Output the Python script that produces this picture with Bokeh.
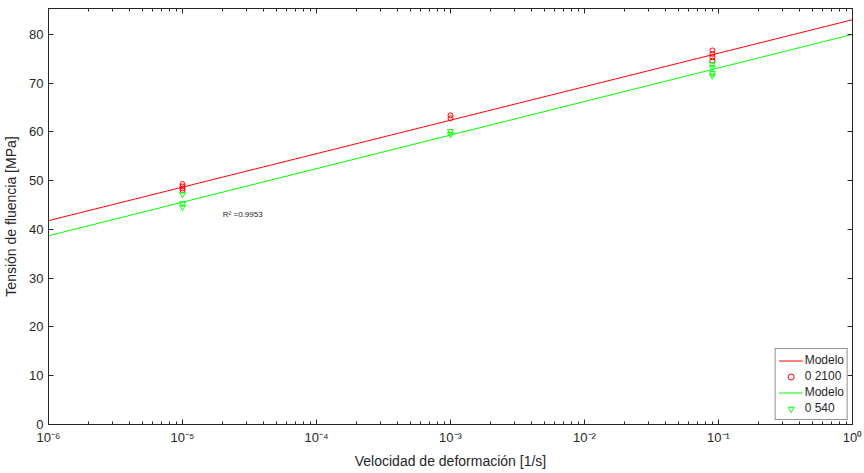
from bokeh.plotting import figure
from bokeh.models import (LogAxis, LinearAxis, Legend, LegendItem, CustomJSTickFormatter,
                          FixedTicker, LogTicker, Range1d, Label)
from bokeh.embed import file_html
from bokeh.resources import INLINE

# ---- data ----
rate_2100 = [1e-5, 1e-5, 1e-5, 1e-5, 1e-3, 1e-3, 0.09, 0.09, 0.09, 0.09]
stress_2100 = [49.3, 48.8, 48.4, 48.0, 63.4, 62.8, 76.7, 76.0, 75.3, 74.6]
rate_540 = [1e-5, 1e-5, 1e-5, 1e-3, 1e-3, 0.09, 0.09, 0.09, 0.09]
stress_540 = [47.2, 45.3, 44.6, 60.1, 59.5, 73.9, 73.2, 72.0, 71.5]
model_rate = [1e-6, 1.0]
model_2100 = [41.8, 83.0]
model_540 = [38.7, 80.0]
y_ticks = [0, 10, 20, 30, 40, 50, 60, 70, 80]
r2_text = "R² =0.9953"

AX = "#262626"
FONT = "Liberation Sans"

p = figure(frame_width=804, frame_height=416, x_axis_type="log",
           x_range=Range1d(1e-6, 1), y_range=Range1d(0, 85.3),
           output_backend="svg", toolbar_location=None,
           min_border_left=40, min_border_right=12, min_border_top=8, min_border_bottom=0)
p.outline_line_color = AX
p.outline_line_width = 1
p.grid.visible = False
p.background_fill_color = "white"
p.border_fill_color = "white"

sup = CustomJSTickFormatter(code="""
const m = {'-':'\u207b','0':'\u2070','1':'\u00b9','2':'\u00b2','3':'\u00b3','4':'\u2074','5':'\u2075','6':'\u2076','7':'\u2077','8':'\u2078','9':'\u2079'};
const e = Math.round(Math.log10(tick)).toString();
let s = '';
for (const c of e) { s += m[c]; }
return '10' + s;
""")

def style_axis(ax):
    ax.axis_line_color = AX
    ax.major_tick_line_color = AX
    ax.minor_tick_line_color = AX
    ax.major_tick_in = 5
    ax.major_tick_out = 0
    ax.minor_tick_in = 3
    ax.minor_tick_out = 0
    ax.major_label_text_color = AX
    ax.major_label_text_font = FONT
    ax.major_label_text_font_size = "13px"
    ax.axis_label_text_color = AX
    ax.axis_label_text_font = FONT
    ax.axis_label_text_font_size = "14px"
    ax.axis_label_text_font_style = "normal"

xa = p.xaxis[0]
style_axis(xa)
xa.ticker = LogTicker(num_minor_ticks=10)
xa.formatter = sup
xa.axis_label = "Velocidad de deformación [1/s]"
xa.major_label_standoff = 5
xa.axis_label_standoff = 5

ya = p.yaxis[0]
style_axis(ya)
ya.ticker = FixedTicker(ticks=y_ticks)
ya.minor_tick_in = 0
ya.axis_label = "Tensión de fluencia [MPa]"
ya.major_label_standoff = 5
ya.axis_label_standoff = 7

top = LogAxis(ticker=LogTicker(num_minor_ticks=10))
style_axis(top)
top.major_label_text_font_size = "0px"
top.major_label_standoff = 0
top.major_tick_in = 5
top.major_label_text_alpha = 0
p.add_layout(top, "above")

right = LinearAxis(ticker=FixedTicker(ticks=y_ticks))
style_axis(right)
right.minor_tick_in = 0
right.major_label_text_font_size = "0px"
right.major_label_standoff = 0
right.major_label_text_alpha = 0
p.add_layout(right, "right")

r1 = p.line(model_rate, model_2100, line_color="#ff0000", line_width=1)
r2 = p.scatter(rate_2100, stress_2100, marker="circle", size=5, fill_color=None,
               line_color="#ff0000", line_width=1)
r3 = p.line(model_rate, model_540, line_color="#00ff00", line_width=1)
r4 = p.scatter(rate_540, stress_540, marker="inverted_triangle", size=6, fill_color=None,
               line_color="#00ff00", line_width=1)

p.add_layout(Label(x=2e-5, y=43.1, text=r2_text, text_font=FONT, text_font_size="8px",
                   text_color=AX, text_baseline="middle"))

legend = Legend(items=[LegendItem(label="Modelo", renderers=[r1]),
                       LegendItem(label="0 2100", renderers=[r2]),
                       LegendItem(label="Modelo", renderers=[r3]),
                       LegendItem(label="0 540", renderers=[r4])],
                location="bottom_right")
legend.margin = 4
legend.padding = 3
legend.spacing = 0
legend.label_height = 16
legend.glyph_height = 15
legend.glyph_width = 24
legend.label_standoff = 2
legend.label_text_font = FONT
legend.label_text_font_size = "12px"
legend.label_text_color = AX
legend.border_line_color = AX
legend.border_line_width = 1
legend.background_fill_color = "white"
legend.background_fill_alpha = 1
p.add_layout(legend, "center")

open("out.html", "w").write(file_html(p, INLINE))
